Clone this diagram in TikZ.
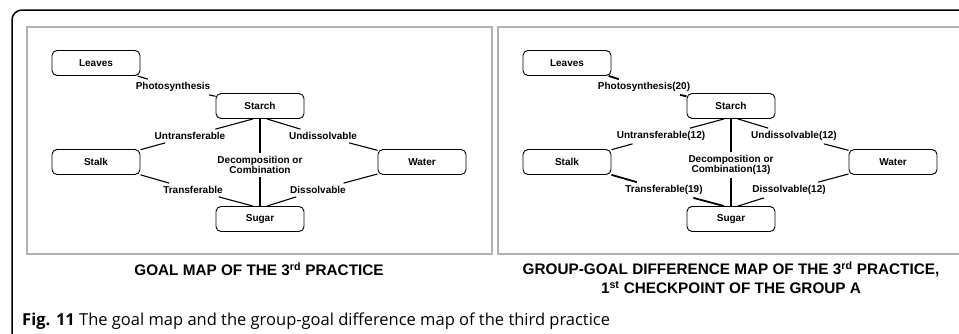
\documentclass[tikz,border=0pt]{standalone}
\usepackage{fontspec}
\setsansfont{Liberation Sans}
\newfontfamily\capfont{Open Sans}
\tikzstyle{concept}=[draw,rounded corners=5pt,line width=0.9pt,minimum width=88pt,minimum height=25pt,inner sep=0pt,font=\sffamily\bfseries\fontsize{10}{10.5}\selectfont]
\tikzstyle{linklabel}=[inner sep=3pt,align=center,font=\sffamily\bfseries\fontsize{10}{10.5}\selectfont]
\tikzstyle{link}=[line width=1.1pt]
\tikzstyle{heavylink}=[line width=1.8pt]
\tikzstyle{panel}=[draw=black!30,line width=1.5pt]
\tikzstyle{maptitle}=[align=center,inner sep=0pt,font=\sffamily\bfseries\fontsize{15.3}{19}\selectfont]

\begin{document}
\begin{tikzpicture}[x=1pt,y=-1pt]
    \useasboundingbox (0,0) rectangle (959,333);
    \clip (0,0) rectangle (959,333);
    \draw[line width=1.5pt,rounded corners=10pt] (1000,10) -- (12,10) -- (12,400);
    \draw[panel] (27,27) rectangle (492,254);
    \draw[panel] (498,27) rectangle (1000,254);

    % goal map
    \node[concept] (aleaves) at (96,63)   {Leaves};
    \node[concept] (astarch) at (260,106) {Starch};
    \node[concept] (astalk)  at (96,162)  {Stalk};
    \node[concept] (awater)  at (422,162) {Water};
    \node[concept] (asugar)  at (260,219) {Sugar};
    \node[linklabel] (aphoto)  at (173,87)  {Photosynthesis};
    \node[linklabel] (auntr)   at (190,136) {Untransferable};
    \node[linklabel] (aundis)  at (323,136) {Undissolvable};
    \node[linklabel] (adecomp) at (260,165) {Decomposition or\\Combination};
    \node[linklabel] (atrans)  at (193,190) {Transferable};
    \node[linklabel] (adiss)   at (318,190) {Dissolvable};

    \foreach \from/\to in {aleaves/aphoto,aphoto/astarch,auntr/astalk,aundis/awater,astalk/atrans,awater/adiss}
    \draw[link] (\from) -- (\to);
    \draw[link] ([xshift=-7]astarch.south) -- (auntr);
    \draw[link] ([xshift=7]astarch.south) -- (aundis);
    \draw[link] (astarch.south) -- (adecomp);
    \draw[link] (adecomp) -- (asugar.north);
    \draw[link] (atrans) -- ([xshift=-7]asugar.north);
    \draw[link] (adiss) -- ([xshift=7]asugar.north);

    % group-goal difference map
    \begin{scope}[xshift=471]
    \node[concept] (bleaves) at (96,63)   {Leaves};
    \node[concept] (bstarch) at (260,106) {Starch};
    \node[concept] (bstalk)  at (96,162)  {Stalk};
    \node[concept] (bwater)  at (422,162) {Water};
    \node[concept] (bsugar)  at (260,219) {Sugar};
    \node[linklabel] (bphoto)  at (173,87)  {Photosynthesis(20)};
    \node[linklabel] (buntr)   at (190,136) {Untransferable(12)};
    \node[linklabel] (bundis)  at (323,136) {Undissolvable(12)};
    \node[linklabel] (bdecomp) at (260,165) {Decomposition or\\Combination(13)};
    \node[linklabel] (btrans)  at (193,190) {Transferable(19)};
    \node[linklabel] (bdiss)   at (318,190) {Dissolvable(12)};
    \end{scope}

    \foreach \from/\to in {bleaves/bphoto,bphoto/bstarch,bstalk/btrans}
    \draw[heavylink] (\from) -- (\to);
    \foreach \from/\to in {buntr/bstalk,bundis/bwater,bwater/bdiss}
    \draw[link] (\from) -- (\to);
    \draw[link] ([xshift=-7]bstarch.south) -- (buntr);
    \draw[link] ([xshift=7]bstarch.south) -- (bundis);
    \draw[link] (bstarch.south) -- (bdecomp);
    \draw[link] (bdecomp) -- (bsugar.north);
    \draw[heavylink] (btrans) -- ([xshift=-7]bsugar.north);
    \draw[link] (bdiss) -- ([xshift=7]bsugar.north);

    % titles
    \node[maptitle] (agoal) at (259,269) {GOAL MAP OF THE 3\textsuperscript{rd} PRACTICE};
    \node[maptitle] (bgoal) at (731,277.5) {GROUP-GOAL DIFFERENCE MAP OF THE 3\textsuperscript{rd} PRACTICE,\\1\textsuperscript{st} CHECKPOINT OF THE GROUP A};
    \node[anchor=base west,inner sep=0pt,font=\capfont\fontsize{16.5}{19}\selectfont] (fig) at (22,325) {\textbf{Fig. 11} The goal map and the group-goal difference map of the third practice};
\end{tikzpicture}
\end{document}
